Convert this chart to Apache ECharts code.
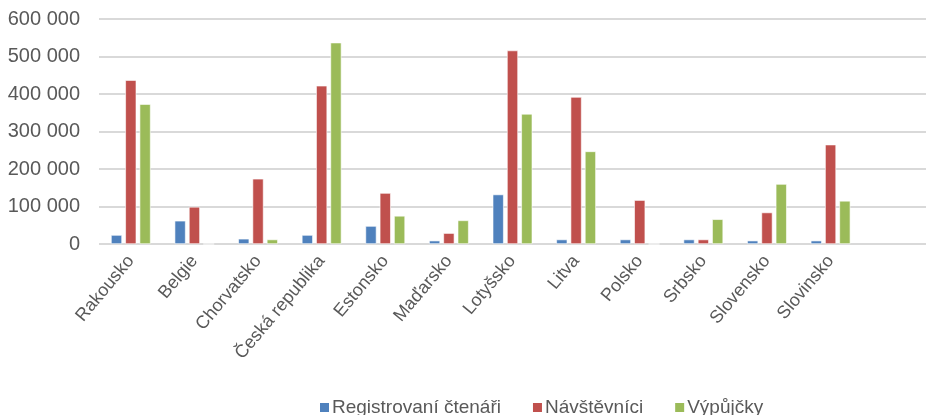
<!DOCTYPE html>
<html>
<head>
<meta charset="utf-8">
<script src="https://cdn.jsdelivr.net/npm/echarts@6/dist/echarts.min.js"></script>
<style>
  html, body { margin: 0; padding: 0; background: #fff; }
  #chart { width: 926px; height: 415px; }
</style>
</head>
<body>
<div id="chart"></div>
<script>
// data
const countries = ['Rakousko', 'Belgie', 'Chorvatsko', 'Česká republika', 'Estonsko', 'Maďarsko',
  'Lotyšsko', 'Litva', 'Polsko', 'Srbsko', 'Slovensko', 'Slovinsko'];
const ctenari = [24000, 62000, 14000, 24000, 48000, 9000, 132000, 12000, 12000, 12000, 9000, 9000];
const navstevnici = [437000, 99000, 174000, 422000, 136000, 29000, 516000, 392000, 117000, 12000, 84000, 265000];
const vypujcky = [373000, 0, 12000, 537000, 75000, 63000, 347000, 247000, 0, 66000, 160000, 115000];
const seriesNames = ['Registrovaní čtenáři', 'Návštěvníci', 'Výpůjčky'];
const colors = ['#4F81BD', '#C0504D', '#9BBB59'];

const chart = echarts.init(document.getElementById('chart'));

const fmt = v => String(v).replace(/\B(?=(\d{3})+(?!\d))/g, ' ');
const font = 'Liberation Sans';

const bar = (name, data, i) => ({
  name: name,
  type: 'bar',
  data: data,
  barWidth: 11,
  barGap: '30%',
  itemStyle: { color: colors[i], borderColor: '#ffffff', borderWidth: 0.6 }
});

chart.setOption({
  animation: false,
  textStyle: { fontFamily: font },
  grid: { left: 99, top: 19, width: 840, height: 225 },
  legend: {
    bottom: -7,
    left: 313,
    itemWidth: 11,
    itemHeight: 11,
    itemGap: 30,
    icon: 'rect',
    textStyle: { fontSize: 19, color: '#595959', fontFamily: font, padding: [0, 0, 0, -3] },
    data: seriesNames
  },
  xAxis: {
    type: 'category',
    data: countries,
    max: 12,
    axisLine: { show: false },
    axisTick: { show: false },
    axisLabel: { interval: 0, rotate: 50, fontSize: 18, color: '#595959', margin: 14 }
  },
  yAxis: {
    type: 'value',
    min: 0,
    max: 600000,
    interval: 100000,
    axisLine: { show: false },
    axisTick: { show: false },
    axisLabel: { fontSize: 20, color: '#595959', margin: 19, formatter: fmt },
    splitLine: { lineStyle: { color: '#d9d9d9', width: 2 } }
  },
  series: [
    bar(seriesNames[0], ctenari, 0),
    bar(seriesNames[1], navstevnici, 1),
    bar(seriesNames[2], vypujcky, 2)
  ]
});
</script>
</body>
</html>
